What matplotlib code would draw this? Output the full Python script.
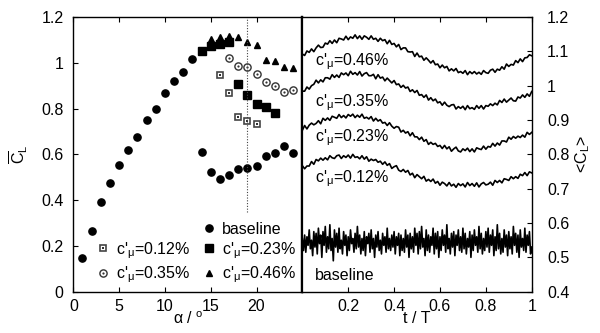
import matplotlib

matplotlib.use("Agg")
import matplotlib.pyplot as plt
import numpy as np
from matplotlib.lines import Line2D

plt.rcParams["font.family"] = ["Liberation Sans", "DejaVu Sans"]
plt.rcParams["mathtext.fontset"] = "custom"
plt.rcParams["mathtext.rm"] = "Liberation Sans"
plt.rcParams["mathtext.it"] = "Liberation Sans"
plt.rcParams["mathtext.bf"] = "Liberation Sans:bold"
FS = 11.5
plt.rcParams["font.size"] = FS

# ---------------------------------------------------------------------------
# Left panel: time-averaged lift vs angle of attack
# ---------------------------------------------------------------------------
alpha_base = [1, 2, 3, 4, 5, 6, 7, 8, 9, 10, 11, 12, 13, 14, 15, 16, 17, 18,
              19, 20, 21, 22, 23, 24]
cl_base = [0.146, 0.266, 0.390, 0.476, 0.552, 0.620, 0.675, 0.750, 0.798,
           0.868, 0.920, 0.961, 1.018, 0.609, 0.524, 0.492, 0.510, 0.534,
           0.540, 0.550, 0.593, 0.606, 0.638, 0.604]

alpha_012 = [16, 17, 18, 19, 20]
cl_012 = [0.946, 0.868, 0.764, 0.745, 0.734]

alpha_023 = [14, 15, 16, 17, 18, 19, 20, 21, 22]
cl_023 = [1.052, 1.073, 1.083, 1.089, 0.906, 0.858, 0.818, 0.805, 0.779]

alpha_035 = [17, 18, 19, 20, 21, 22, 23, 24]
cl_035 = [1.019, 0.984, 0.980, 0.949, 0.914, 0.897, 0.872, 0.881]

alpha_046 = [15, 16, 17, 18, 19, 20, 21, 22, 23, 24]
cl_046 = [1.103, 1.111, 1.118, 1.114, 1.092, 1.078, 1.012, 1.009, 0.983, 0.977]

stall_alpha = 19
stall_line = (0.35, 1.2)

# ---------------------------------------------------------------------------
# Right panel: phase-averaged lift over one forcing period
# ---------------------------------------------------------------------------
cl_t_046 = [
    1.092, 1.088, 1.101, 1.097, 1.107, 1.099, 1.110, 1.118, 1.111, 1.112,
    1.124, 1.121, 1.131, 1.123, 1.133, 1.125, 1.138, 1.136, 1.133, 1.144,
    1.134, 1.142, 1.138, 1.148, 1.137, 1.145, 1.135, 1.145, 1.141, 1.135,
    1.145, 1.135, 1.138, 1.129, 1.138, 1.131, 1.134, 1.122, 1.132, 1.120,
    1.123, 1.113, 1.120, 1.105, 1.110, 1.110, 1.099, 1.098, 1.099, 1.085,
    1.095, 1.084, 1.086, 1.074, 1.081, 1.074, 1.066, 1.073, 1.061, 1.063,
    1.052, 1.060, 1.052, 1.056, 1.043, 1.049, 1.043, 1.050, 1.038, 1.041,
    1.036, 1.044, 1.032, 1.041, 1.035, 1.041, 1.034, 1.039, 1.033, 1.044,
    1.038, 1.036, 1.045, 1.048, 1.039, 1.048, 1.045, 1.055, 1.048, 1.063,
    1.056, 1.062, 1.060, 1.073, 1.067, 1.078, 1.070, 1.081, 1.082, 1.090,
    1.087]
cl_t_035 = [
    0.984, 0.984, 0.996, 0.990, 1.000, 1.004, 1.016, 1.008, 1.017, 1.011,
    1.023, 1.023, 1.019, 1.032, 1.024, 1.031, 1.024, 1.037, 1.032, 1.037,
    1.029, 1.042, 1.033, 1.038, 1.031, 1.041, 1.028, 1.035, 1.038, 1.029,
    1.029, 1.033, 1.020, 1.032, 1.022, 1.025, 1.014, 1.022, 1.015, 1.008,
    1.015, 1.003, 1.005, 0.995, 1.001, 0.993, 0.996, 0.983, 0.988, 0.980,
    0.986, 0.972, 0.974, 0.966, 0.973, 0.958, 0.965, 0.956, 0.961, 0.950,
    0.953, 0.943, 0.952, 0.943, 0.939, 0.944, 0.945, 0.932, 0.939, 0.934,
    0.940, 0.930, 0.942, 0.933, 0.936, 0.931, 0.942, 0.934, 0.942, 0.932,
    0.942, 0.940, 0.947, 0.942, 0.949, 0.944, 0.957, 0.951, 0.961, 0.952,
    0.958, 0.964, 0.956, 0.955, 0.967, 0.964, 0.973, 0.966, 0.976, 0.969,
    0.983]
cl_t_023 = [
    0.870, 0.884, 0.874, 0.885, 0.891, 0.886, 0.890, 0.898, 0.889, 0.905,
    0.899, 0.906, 0.899, 0.911, 0.908, 0.905, 0.916, 0.907, 0.913, 0.906,
    0.916, 0.911, 0.917, 0.907, 0.914, 0.908, 0.917, 0.905, 0.908, 0.903,
    0.910, 0.897, 0.905, 0.897, 0.901, 0.891, 0.893, 0.884, 0.892, 0.882,
    0.876, 0.881, 0.879, 0.865, 0.870, 0.862, 0.866, 0.854, 0.863, 0.851,
    0.851, 0.843, 0.850, 0.838, 0.843, 0.829, 0.835, 0.829, 0.832, 0.823,
    0.826, 0.817, 0.826, 0.816, 0.822, 0.809, 0.816, 0.821, 0.810, 0.807,
    0.816, 0.811, 0.818, 0.808, 0.816, 0.807, 0.819, 0.816, 0.814, 0.824,
    0.815, 0.823, 0.821, 0.832, 0.824, 0.833, 0.827, 0.839, 0.839, 0.836,
    0.850, 0.844, 0.852, 0.847, 0.853, 0.849, 0.856, 0.850, 0.864, 0.858,
    0.864]
cl_t_012 = [
    0.767, 0.758, 0.766, 0.766, 0.779, 0.771, 0.785, 0.781, 0.789, 0.783,
    0.790, 0.784, 0.796, 0.790, 0.788, 0.796, 0.798, 0.788, 0.796, 0.791,
    0.798, 0.789, 0.800, 0.791, 0.793, 0.787, 0.796, 0.786, 0.793, 0.780,
    0.786, 0.782, 0.785, 0.777, 0.780, 0.771, 0.778, 0.768, 0.773, 0.759,
    0.764, 0.767, 0.754, 0.750, 0.756, 0.748, 0.753, 0.740, 0.745, 0.732,
    0.741, 0.735, 0.729, 0.736, 0.722, 0.727, 0.721, 0.728, 0.716, 0.721,
    0.710, 0.719, 0.715, 0.708, 0.718, 0.708, 0.713, 0.704, 0.715, 0.709,
    0.714, 0.705, 0.718, 0.709, 0.715, 0.707, 0.717, 0.705, 0.714, 0.718,
    0.711, 0.713, 0.719, 0.710, 0.724, 0.718, 0.724, 0.717, 0.729, 0.727,
    0.724, 0.735, 0.729, 0.735, 0.730, 0.742, 0.738, 0.747, 0.738, 0.749,
    0.746]
cl_t_base = [
    0.555, 0.520, 0.565, 0.515, 0.560, 0.535, 0.580, 0.525, 0.550, 0.505,
    0.575, 0.530, 0.570, 0.510, 0.585, 0.540, 0.565, 0.500, 0.575, 0.535,
    0.590, 0.515, 0.560, 0.525, 0.595, 0.520, 0.555, 0.490, 0.580, 0.530,
    0.570, 0.515, 0.585, 0.525, 0.550, 0.510, 0.575, 0.535, 0.565, 0.505,
    0.560, 0.520, 0.580, 0.540, 0.555, 0.515, 0.570, 0.525, 0.590, 0.530,
    0.565, 0.510, 0.555, 0.520, 0.575, 0.505, 0.560, 0.540, 0.570, 0.515,
    0.580, 0.525, 0.555, 0.500, 0.565, 0.530, 0.575, 0.520, 0.550, 0.510,
    0.570, 0.535, 0.560, 0.515, 0.585, 0.525, 0.555, 0.520, 0.565, 0.530,
    0.575, 0.510, 0.560, 0.535, 0.570, 0.505, 0.565, 0.520, 0.555, 0.515,
    0.580, 0.530, 0.565, 0.500, 0.570, 0.525, 0.560, 0.515, 0.585, 0.535,
    0.570, 0.510, 0.575, 0.525, 0.590, 0.530, 0.555, 0.505, 0.580, 0.520,
    0.565, 0.515, 0.560, 0.535, 0.585, 0.510, 0.570, 0.525, 0.575, 0.500,
    0.560, 0.520, 0.580, 0.535, 0.565, 0.515, 0.595, 0.525, 0.555, 0.510,
    0.570, 0.530, 0.575, 0.505, 0.565, 0.535, 0.580, 0.520, 0.560, 0.515,
    0.585, 0.525, 0.570, 0.510, 0.555, 0.530, 0.575, 0.500, 0.565, 0.520,
    0.580, 0.535, 0.560, 0.515, 0.590, 0.525, 0.570, 0.510, 0.555, 0.520,
    0.575, 0.530, 0.585, 0.515, 0.565, 0.535, 0.580, 0.505, 0.560, 0.520,
    0.595, 0.525, 0.570, 0.510, 0.555, 0.515, 0.580, 0.530, 0.565, 0.505,
    0.575, 0.525, 0.560, 0.510, 0.590, 0.535, 0.570, 0.515, 0.565, 0.500,
    0.580, 0.530, 0.555, 0.520, 0.585, 0.515, 0.565, 0.535, 0.575, 0.510,
    0.530]

t_ctrl = np.linspace(0.0, 1.0, len(cl_t_046))
t_base = np.linspace(0.0, 1.0, len(cl_t_base))

curve_labels = [r"c$'_\mu$=0.46%", r"c$'_\mu$=0.35%", r"c$'_\mu$=0.23%",
                r"c$'_\mu$=0.12%", "baseline"]
label_y = [1.060, 0.939, 0.837, 0.720, 0.434]

# ---------------------------------------------------------------------------
fig = plt.figure(figsize=(6.0, 3.33), dpi=100)
ax1 = fig.add_axes([0.1222, 0.124, 0.3817, 0.825])
ax2 = fig.add_axes([0.5039, 0.124, 0.3823, 0.825])

h_base, = ax1.plot(alpha_base, cl_base, "o", color="black", ms=5.2, mec="black")
h012a, = ax1.plot(alpha_012, cl_012, "s", ms=5, mfc="white", mec="#444444", mew=1.2)
h012b, = ax1.plot(alpha_012, cl_012, "s", ms=1.6, mfc="#333333", mec="#333333", mew=0)
h035a, = ax1.plot(alpha_035, cl_035, "o", ms=5.2, mfc="white", mec="#333333", mew=1.0)
h035b, = ax1.plot(alpha_035, cl_035, "o", ms=1.6, mfc="#333333", mec="#333333", mew=0)
h023, = ax1.plot(alpha_023, cl_023, "s", color="black", ms=5.6, mec="black")
h046, = ax1.plot(alpha_046, cl_046, "^", color="black", ms=4.0, mec="black")

ax1.vlines(stall_alpha, stall_line[0], stall_line[1], colors="#444444",
           linestyles=(0, (1, 1.5)), linewidth=0.8)

blank = Line2D([], [], linestyle="none", marker="none")
handles = [blank, (h012a, h012b), (h035a, h035b), h_base, h023, h046]
labels = ["", r"c$'_\mu$=0.12%", r"c$'_\mu$=0.35%", "baseline",
          r"c$'_\mu$=0.23%", r"c$'_\mu$=0.46%"]
ax1.legend(handles, labels, ncol=2, loc="lower right",
           bbox_to_anchor=(1.015, -0.01), frameon=False, numpoints=1,
           handlelength=0.6, handletextpad=0.5, columnspacing=0.9,
           labelspacing=0.22, borderaxespad=0.2, fontsize=FS)

ax1.set_xlim(0, 25)
ax1.set_ylim(0, 1.2)
ax1.set_xticks([0, 5, 10, 15, 20])
ax1.set_yticks([0, 0.2, 0.4, 0.6, 0.8, 1.0, 1.2])
ax1.set_yticklabels(["0", "0.2", "0.4", "0.6", "0.8", "1", "1.2"])
ax1.tick_params(direction="in", length=3.5, width=0.8, top=True, right=False,
                labelsize=FS)
ax1.tick_params(axis="y", pad=7)
ax1.tick_params(axis="x", pad=5)
ax1.set_xlabel(r"$\alpha$ / $^\mathregular{o}$", labelpad=-2)
ax1.set_ylabel(r"$\overline{\mathregular{C}}_\mathregular{L}$", labelpad=8)

# right panel
for y in [cl_t_046, cl_t_035, cl_t_023, cl_t_012]:
    ax2.plot(t_ctrl, y, color="black", lw=1.2)
ax2.plot(t_base, cl_t_base, color="black", lw=1.2)
for lab, yl in zip(curve_labels, label_y):
    ax2.text(0.055, yl, lab, ha="left", va="baseline", fontsize=FS)

ax2.set_xlim(0, 1)
ax2.set_ylim(0.4, 1.2)
ax2.set_xticks([0.2, 0.4, 0.6, 0.8, 1.0])
ax2.set_xticklabels(["0.2", "0.4", "0.6", "0.8", "1"])
ax2.set_yticks([0.4, 0.5, 0.6, 0.7, 0.8, 0.9, 1.0, 1.1, 1.2])
ax2.set_yticklabels(["0.4", "0.5", "0.6", "0.7", "0.8", "0.9", "1", "1.1", "1.2"])
ax2.yaxis.tick_right()
ax2.yaxis.set_label_position("right")
ax2.tick_params(direction="in", length=3.5, width=0.8, top=True, left=False,
                right=True, labelsize=FS)
ax2.tick_params(axis="y", pad=11)
ax2.tick_params(axis="x", pad=5)
ax2.set_xlabel("t / T", labelpad=-2)
ax2.set_ylabel(r"<C$_\mathregular{L}$>", labelpad=3)

for ax in (ax1, ax2):
    for sp in ax.spines.values():
        sp.set_linewidth(1.0)
ax1.spines["right"].set_linewidth(1.6)
ax2.spines["left"].set_linewidth(1.6)

fig.savefig("out.png", dpi=100)
